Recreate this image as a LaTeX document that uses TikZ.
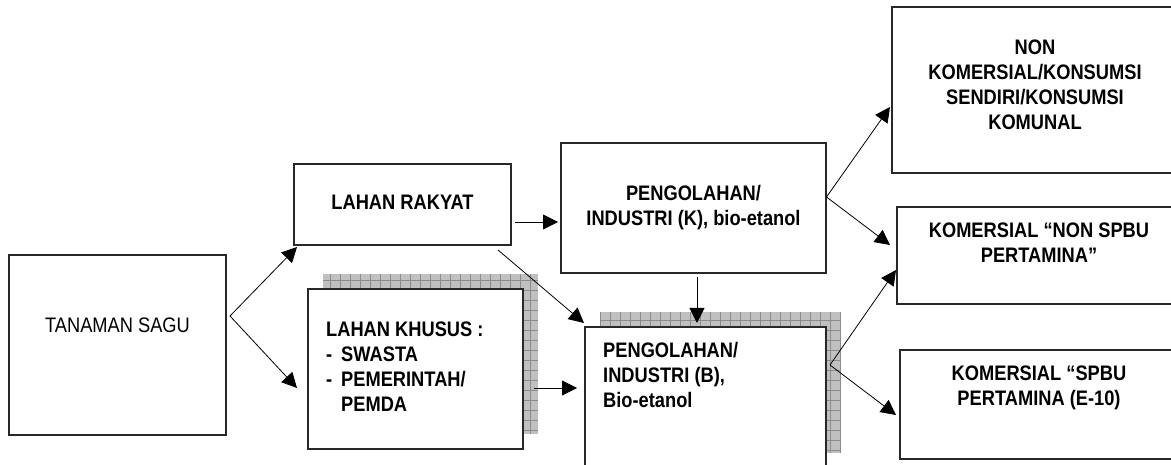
\documentclass[tikz,border=0pt]{standalone}
\usepackage{fontspec}
\setmainfont{Liberation Sans}[FakeStretch=0.87]
\usepackage{tikz}
\usetikzlibrary{arrows.meta,positioning,calc,backgrounds}
\definecolor{ink}{RGB}{40,40,40}
\definecolor{mesh}{RGB}{192,192,192}
\definecolor{meshline}{RGB}{140,140,140}
\newcommand\bigfont{\fontsize{21}{25}\selectfont}
\newcommand\itm{\makebox[15pt][l]{-}}

\begin{document}
\begin{tikzpicture}[x=1pt,y=-1pt,font=\bigfont,>={Triangle[length=15pt,width=15pt]},
 b/.style={draw=ink,line width=1.3pt,fill=white,inner sep=0pt,outer sep=0pt,anchor=north west},
 t/.style={inner sep=0pt,align=center,font=\bigfont\bfseries},
 tl/.style={inner sep=0pt,align=left,font=\bigfont\bfseries},
 arr/.style={->,draw=black,line width=0.8pt}]
 \useasboundingbox (0,0) rectangle (1171,465);
 \clip (0,0) rectangle (1171,465);
 % boxes
 \node[b,minimum width=217pt,minimum height=180pt](sagu) at (9,255){};
 \node[b,minimum width=217pt,minimum height=81pt](rakyat) at (294,164){};
 \node[b,minimum width=215pt,minimum height=160pt](khusus) at (308,289){};
 \node[b,minimum width=265pt,minimum height=130pt](indk) at (561,143){};
 \node[b,minimum width=241pt,minimum height=141pt](indb) at (585,327){};
 \node[b,minimum width=286pt,minimum height=166pt](nonkom) at (892,7){};
 \node[b,minimum width=284pt,minimum height=97pt](nonspbu) at (897,207){};
 \node[b,minimum width=278pt,minimum height=109pt](spbu) at (900,350){};
 % texts
 \node[t,font=\bigfont,below=62.5pt of sagu.north](tsagu){TANAMAN SAGU};
 \node[t,below=30.5pt of rakyat.north](trakyat){LAHAN RAKYAT};
 \node[tl,below right=32.5pt and 18pt of khusus.north west](tkhusus){LAHAN KHUSUS :\\\itm SWASTA\\\itm PEMERINTAH/\\\hspace*{15pt}PEMDA};
 \node[t,below=42.5pt of indk.north](tindk){PENGOLAHAN/\\INDUSTRI (K), bio-etanol};
 \node[tl,below right=15.5pt and 18pt of indb.north west](tindb){PENGOLAHAN/\\INDUSTRI (B),\\Bio-etanol};
 \node[t,below=32.5pt of nonkom.north](tnonkom){NON\\KOMERSIAL/KONSUMSI\\SENDIRI/KONSUMSI\\KOMUNAL};
 \node[t,below=15.5pt of nonspbu.north](tnonspbu){KOMERSIAL “NON SPBU\\PERTAMINA”};
 \node[t,below=15.5pt of spbu.north](tspbu){KOMERSIAL “SPBU\\PERTAMINA (E-10)};
 % shadows
 \begin{scope}[on background layer]
  \fill[mesh]($(khusus.south west)+(15,-15)$) rectangle ($(khusus.north east)+(15,-15)$);
  \draw[meshline,line width=0.5pt]($(khusus.south west)+(15,-15)$) grid[step=10pt] ($(khusus.north east)+(15,-15)$);
  \fill[mesh]($(indb.south west)+(15,-15)$) rectangle ($(indb.north east)+(15,-15)$);
  \draw[meshline,line width=0.5pt]($(indb.south west)+(15,-15)$) grid[step=10pt] ($(indb.north east)+(15,-15)$);
 \end{scope}
 % connectors
 \coordinate (fork) at ($(sagu.east)+(4,-29)$);
 \draw[arr](fork) -- ($(rakyat.south west)+(3,2)$);
 \draw[arr](fork) -- ($(khusus.west)+(-11,19)$);
 \draw[arr]($(rakyat.east)+(4,17.5)$) -- ($(indk.west)+(-3,14)$);
 \draw[arr]($(rakyat.south east)+(-13,5)$) -- ($(indb.north west)+(-1,-4)$);
 \draw[arr]($(khusus.east)+(11,19)$) -- ($(indb.west)+(-8,-9.5)$);
 \draw[arr]($(indk.south)+(3.5,4)$) -- ($(indb.north)+(-8.5,-4)$);
 \coordinate (ksplit) at ($(indk.east)+(0.5,-11)$);
 \draw[arr](ksplit) -- ($(nonkom.west)+(-2,17)$);
 \draw[arr](ksplit) -- ($(nonspbu.west)+(-7,-10.5)$);
 \coordinate (bsplit) at ($(indb.east)+(4,-32.5)$);
 \draw[arr](bsplit) -- ($(nonspbu.west)+(-1,14.5)$);
 \draw[arr](bsplit) -- ($(spbu.west)+(-4,10.5)$);
\end{tikzpicture}
\end{document}
